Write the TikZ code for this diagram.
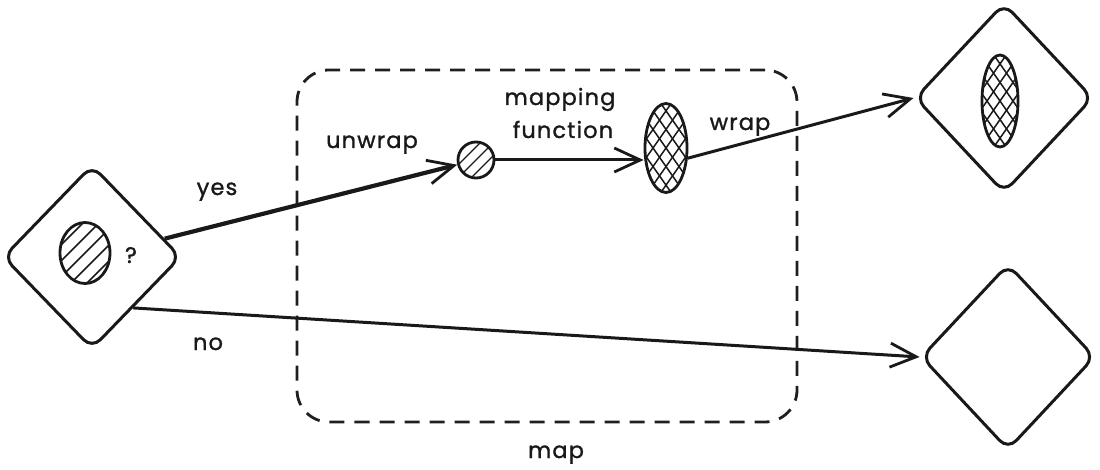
\documentclass[tikz,border=0pt]{standalone}
\usepackage{fontspec}
\setmainfont{Poppins}[LetterSpace=5,FakeBold=1.2]
\usetikzlibrary{shapes.geometric,arrows.meta,calc}
\begin{document}
\begin{tikzpicture}[x=1pt,y=-1pt,
  ink/.style={draw=black!90, line width=3pt},
  dia/.style={ink, diamond, rounded corners=12pt, inner sep=0pt},
  blob/.style={draw=black!90, line width=2.8pt, ellipse, inner sep=0pt},
  hatch/.style={path picture={
    \foreach \k in {-80,-64,...,80}
      \draw[line width=1.5pt] ([xshift=\k pt-70pt, yshift=-70pt]path picture bounding box.center) -- ++(140pt,140pt);}},
  smallhatch/.style={path picture={
    \foreach \k in {-26,-13,...,26}
      \draw[line width=1.4pt] ([xshift=\k pt-40pt, yshift=-40pt]path picture bounding box.center) -- ++(80pt,80pt);}},
  cross/.style={path picture={
    \foreach \k in {-104,-91,...,104}{
      \draw[line width=1.5pt] ([xshift=\k pt-70pt, yshift=-100pt]path picture bounding box.center) -- ++(140pt,200pt);
      \draw[line width=1.5pt] ([xshift=\k pt+70pt, yshift=-100pt]path picture bounding box.center) -- ++(-140pt,200pt);}}},
  arr/.style={draw=black!90, line width=3pt, -{Straight Barb[length=26pt,width=24pt,line width=2.8pt]}},
  lbl/.style={font=\fontsize{22.5}{26}\selectfont, text=black!90, inner sep=0pt, anchor=base},
  frame/.style={draw=black!88, line width=2.8pt, dash pattern=on 15pt off 10pt, rounded corners=32pt}
]
\useasboundingbox (0,0) rectangle (1100,470);
% grouping frame
\node[frame, minimum width=500pt, minimum height=352pt] (box) at (547,246) {};
\node[lbl] (maplbl) at (556,458) {map};
% diamonds
\node[dia, minimum width=178pt, minimum height=184pt] (d1) at (92,257) {};
\node[dia, minimum width=178pt, minimum height=190pt] (d2) at (1004,98) {};
\node[dia, minimum width=174pt, minimum height=186pt] (d3) at (1008,357) {};
% contents
\node[blob, hatch, minimum width=50pt, minimum height=61pt] (e1) at (85,253) {};
\node[lbl] (q) at (131,263) {?};
\node[blob, smallhatch, circle, minimum size=36pt] (c1) at (476,160) {};
\node[blob, cross, minimum width=42pt, minimum height=89pt] (e2) at (666,148) {};
\node[blob, cross, minimum width=36pt, minimum height=92pt] (e3) at (1000,101) {};
% connectors
\draw[arr, line width=4.2pt] (d1) -- (c1);
\draw[arr] (c1) -- (c1 -| e2.west);
\draw[arr] (e2.-25) -- (d2.west);
\draw[arr] (d1.-51) -- (d3.west);
% labels
\node[lbl] (yes) at (217,195) {yes};
\node[lbl] (unwrap) at (372,148) {unwrap};
\node[lbl] (mf1) at (560,105) {mapping};
\node[lbl] (mf2) at (563,138) {function};
\node[lbl] (wrap) at (740,130) {wrap};
\node[lbl] (no) at (208,350) {no};
\end{tikzpicture}
\end{document}
